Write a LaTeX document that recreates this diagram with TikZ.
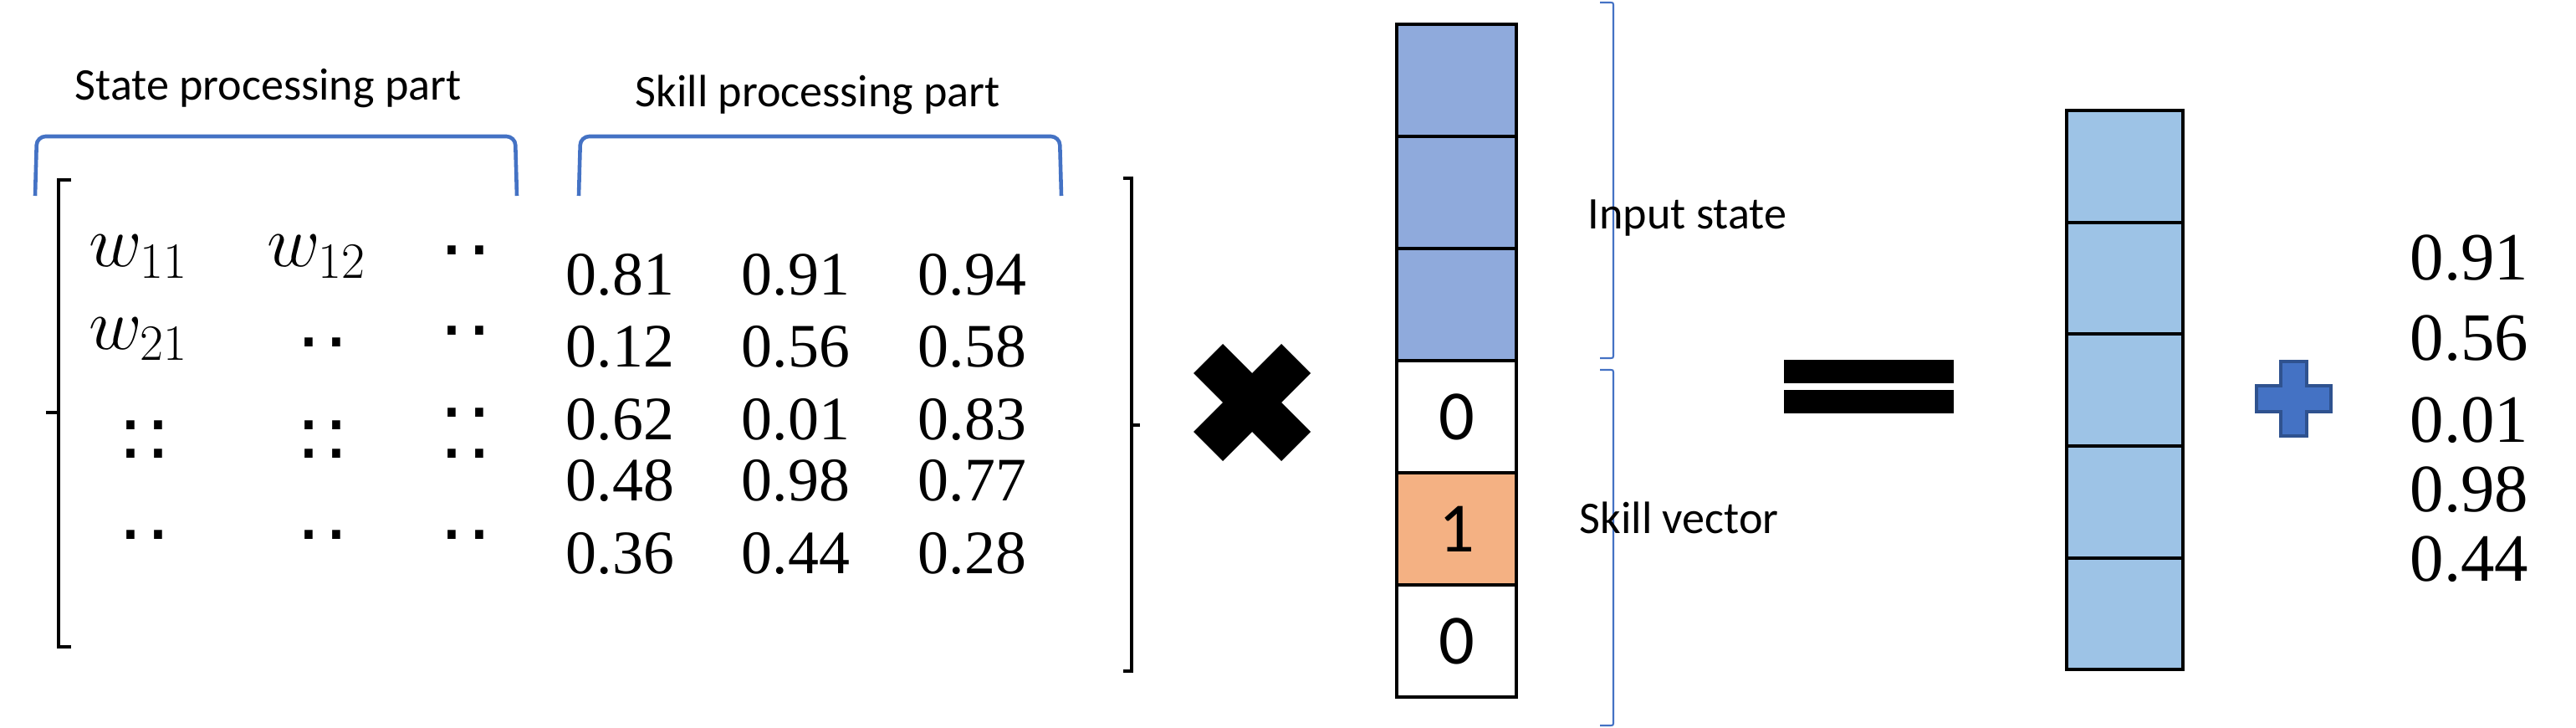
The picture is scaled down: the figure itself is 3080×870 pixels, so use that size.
\documentclass[tikz,border=0pt]{standalone}
\usepackage{fontspec}
\setmainfont{Liberation Serif}
\newfontfamily\calibri{Carlito}
\newfontfamily\arialfont{Liberation Sans}
\usetikzlibrary{positioning}
\definecolor{partblue}{HTML}{4472C4}
\definecolor{stateblue}{HTML}{8FAADC}
\definecolor{outblue}{HTML}{9DC3E6}
\definecolor{skillorange}{HTML}{F4B183}
\definecolor{plusedge}{HTML}{2F528F}
\newcommand{\twodots}{.\kern0.045em.}
\tikzstyle{cell} = [rectangle, draw=black, line width=1.1pt, inner sep=0pt, outer sep=0pt,
                    minimum width=1.43cm, minimum height=1.34cm, font=\calibri\fontsize{24}{28}\selectfont]
\tikzstyle{outcell} = [cell, fill=outblue, minimum width=1.39cm, minimum height=1.336cm]
\tikzstyle{parttext} = [inner sep=0pt, anchor=base west, font=\calibri\fontsize{15.4}{18}\selectfont]
\tikzstyle{num} = [inner sep=0pt, anchor=base west, font=\fontsize{21}{24}\selectfont]
\tikzstyle{bignum} = [inner sep=0pt, anchor=base west, font=\fontsize{23}{26}\selectfont]
\tikzstyle{weight} = [inner sep=0pt, anchor=base west, font=\fontsize{26}{30}\selectfont]
\tikzstyle{dotpair} = [inner sep=0pt, anchor=base, font=\arialfont\fontsize{28.5}{30}\selectfont]
\tikzstyle{dotstack} = [inner sep=0pt, anchor=center, align=center,
                        font=\arialfont\fontsize{28.5}{9.7}\selectfont]
\tikzstyle{matbracket} = [line width=1.4pt]
\tikzstyle{partbracket} = [draw=partblue, line width=1.3pt, rounded corners=3pt]
\tikzstyle{curly} = [draw=partblue, line width=0.6pt]

\begin{document}
\begin{tikzpicture}[x=0.01cm, y=-0.01cm]
\useasboundingbox (0,0) rectangle (3080,870);

% part labels and their brackets
\node[parttext] (statepart) at (89,120) {State processing part};
\node[parttext] (skillpart) at (759,128) {Skill processing part};
\draw[partbracket] (42,234) -- (44,163) -- (616,163) -- (618,234);
\draw[partbracket] (692,234) -- (694,163) -- (1267,163) -- (1269,234);

% weight matrix
\draw[matbracket] (85,215) -- (70,215) -- (70,773) -- (85,773);
\draw[matbracket] (70,493) -- (55,493);
\draw[matbracket] (1343,213) -- (1353,213) -- (1353,802) -- (1343,802);
\draw[matbracket] (1353,508) -- (1363,508);

\node[weight] (w11) at (106,319) {$w_{11}$};
\node[weight] (w12) at (319,319) {$w_{12}$};
\node[weight] (w21) at (106,417) {$w_{21}$};
\foreach \x/\y [count=\i] in {557/305, 386/415, 557/401, 173/644, 386/644, 557/644}
  \node[dotpair] (d\i) at (\x,\y) {\twodots};
\node[dotstack] (s1) at (173,525) {\twodots\\\twodots};
\node[dotstack] (s2) at (386,525) {\twodots\\\twodots};
\node[dotstack, font=\arialfont\fontsize{28.5}{13.9}\selectfont] (s3) at (557,517.5) {\twodots\\\twodots};

\foreach \y/\a/\b/\c [count=\r] in {353/0.81/0.91/0.94, 439/0.12/0.56/0.58,
    525/0.62/0.01/0.83, 598/0.48/0.98/0.77, 685/0.36/0.44/0.28} {
  \node[num] (m\r-1) at (676,\y) {\a};
  \node[num] (m\r-2) at (886,\y) {\b};
  \node[num] (m\r-3) at (1097,\y) {\c};
}

% times sign
\fill (1427,446) -- (1462,411) -- (1497,446) -- (1532,411) -- (1567,446) -- (1532,481)
  -- (1567,516) -- (1532,551) -- (1497,516) -- (1462,551) -- (1427,516) -- (1462,481) -- cycle;

% input vector
\node[cell, fill=stateblue] (in1) at (1741.5,96) {};
\node[cell, fill=stateblue, below=0pt of in1] (in2) {};
\node[cell, fill=stateblue, below=0pt of in2] (in3) {};
\node[cell, fill=white, below=0pt of in3] (in4) {0};
\node[cell, fill=skillorange, below=0pt of in4] (in5) {1};
\node[cell, fill=white, below=0pt of in5] (in6) {0};

\draw[curly] (1913,3) -- (1924,3) .. controls (1929,3) .. (1929,8) -- (1929,423)
  .. controls (1929,428) .. (1924,428) -- (1913,428);
\draw[curly] (1913,442) -- (1924,442) .. controls (1929,442) .. (1929,447) -- (1929,862)
  .. controls (1929,867) .. (1924,867) -- (1913,867);
\node[parttext] (instate) at (1898,274) {Input state};
\node[parttext] (skillvec) at (1888,637) {Skill vector};

% equals sign
\fill (2133,430) rectangle (2336,458);
\fill (2133,466) rectangle (2336,494);

% output vector
\node[outcell] (out1) at (2540.5,198.8) {};
\node[outcell, below=0pt of out1] (out2) {};
\node[outcell, below=0pt of out2] (out3) {};
\node[outcell, below=0pt of out3] (out4) {};
\node[outcell, below=0pt of out4] (out5) {};

% plus sign
\filldraw[fill=partblue, draw=plusedge, line width=1.1pt]
  (2727,432) -- (2758,432) -- (2758,461) -- (2787,461) -- (2787,492) -- (2758,492)
  -- (2758,521) -- (2727,521) -- (2727,492) -- (2698,492) -- (2698,461) -- (2727,461) -- cycle;

% bias
\foreach \y/\v [count=\i] in {335/0.91, 431/0.56, 528/0.01, 611/0.98, 694/0.44}
  \node[bignum] (b\i) at (2881,\y) {\v};
\end{tikzpicture}
\end{document}
